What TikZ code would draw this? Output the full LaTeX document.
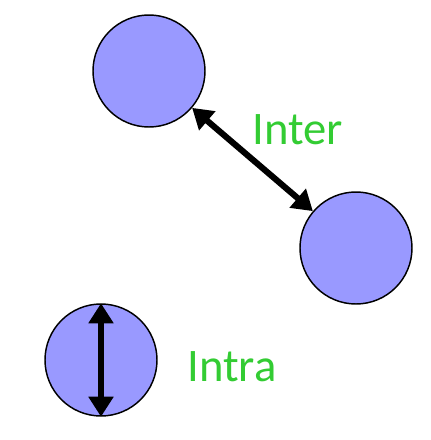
\documentclass[tikz,border=0pt]{standalone}
\usepackage{fontspec}
\setmainfont{Carlito}
\definecolor{ball}{HTML}{9999FF}
\definecolor{lbl}{HTML}{33CC33}
\usetikzlibrary{arrows.meta,positioning}

\begin{document}
\begin{tikzpicture}[x=0.75pt,y=-0.75pt,
    mol/.style={circle,draw=black,line width=1.1pt,fill=ball,
      minimum size=84pt,inner sep=0pt},
    bond/.style={line width=4.6pt,
      {Triangle[length=15pt,width=18pt]}-{Triangle[length=15pt,width=18pt]}},
    tag/.style={text=lbl,font=\fontsize{35}{40}\selectfont,inner sep=0pt},
  ]
    \useasboundingbox (0,0) rectangle (430,440);

    \node[mol] (upper) at (149,71) {};
    \node[mol] (lower) at (356,248) {};
    \node[mol] (single) at (101,360) {};

    \draw[bond] (upper) -- (lower);
    \draw[bond] (single.north) -- (single.south);

    \node[tag] (inter) at (298,130) {Inter};
    \node[tag] (intra) at (232,367) {Intra};
  \end{tikzpicture}
\end{document}
